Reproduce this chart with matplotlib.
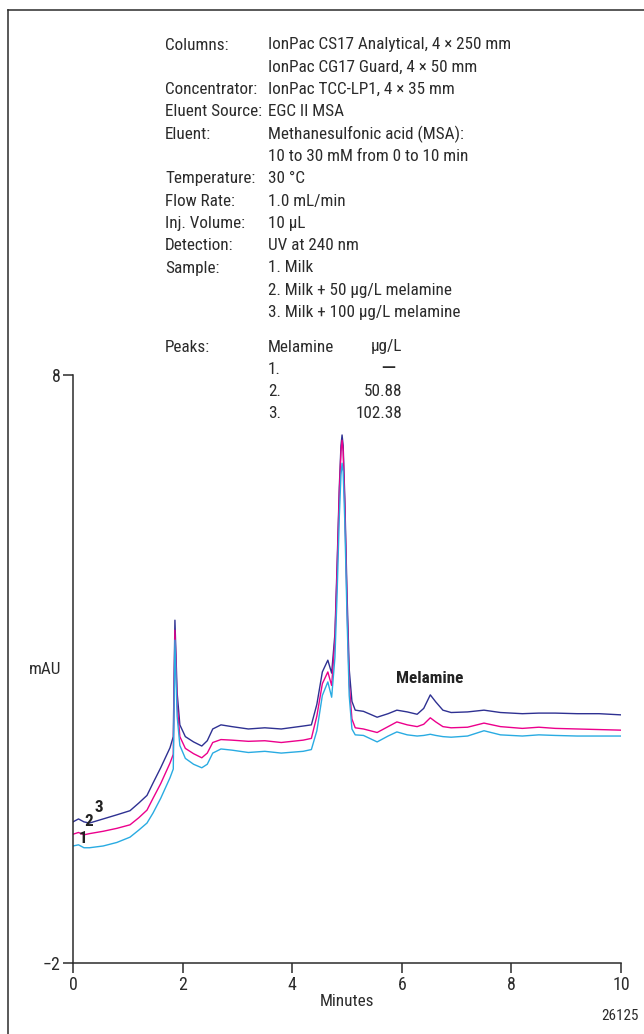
import matplotlib
matplotlib.use('Agg')
import matplotlib.pyplot as plt
from matplotlib import font_manager
from matplotlib.font_manager import FontProperties
from matplotlib.textpath import TextPath
from matplotlib.lines import Line2D

# --- data (minutes, mAU) ---
minutes = [0, 0.1, 0.2, 0.3, 0.55, 0.8, 1.04, 1.2, 1.35, 1.46,
           1.6, 1.77, 1.83, 1.86, 1.90, 1.95, 2.05, 2.2, 2.35, 2.45,
           2.55, 2.7, 2.9, 3.2, 3.5, 3.8, 4.2, 4.35, 4.45, 4.55,
           4.65, 4.72, 4.78, 4.82, 4.86, 4.89, 4.91, 4.93, 4.96, 5.00,
           5.04, 5.09, 5.15, 5.3, 5.55, 5.75, 5.91, 6.1, 6.28, 6.4,
           6.52, 6.62, 6.75, 6.9, 7.2, 7.5, 7.8, 8.2, 8.5, 8.8,
           9.2, 9.6, 10]
trace3 = [0.40, 0.45, 0.40, 0.38, 0.45, 0.52, 0.59, 0.72, 0.85, 1.06,
          1.32, 1.66, 1.85, 3.83, 2.60, 2.05, 1.85, 1.76, 1.69, 1.78,
          1.98, 2.05, 2.02, 1.98, 2.00, 1.98, 2.03, 2.05, 2.40, 2.95,
          3.15, 2.93, 3.60, 4.80, 6.10, 6.80, 6.98, 6.80, 5.90, 4.30,
          3.00, 2.45, 2.30, 2.28, 2.18, 2.24, 2.30, 2.27, 2.23, 2.33,
          2.56, 2.44, 2.30, 2.26, 2.27, 2.30, 2.26, 2.24, 2.25, 2.25,
          2.24, 2.24, 2.22]
trace2 = [0.19, 0.22, 0.18, 0.20, 0.24, 0.29, 0.35, 0.47, 0.60, 0.80,
          1.05, 1.40, 1.55, 3.66, 2.40, 1.85, 1.65, 1.56, 1.49, 1.57,
          1.75, 1.80, 1.79, 1.77, 1.78, 1.75, 1.79, 1.82, 2.20, 2.75,
          2.95, 2.72, 3.50, 4.70, 6.00, 6.70, 6.89, 6.70, 5.75, 4.10,
          2.75, 2.15, 2.00, 1.98, 1.92, 2.02, 2.10, 2.05, 2.02, 2.06,
          2.17, 2.10, 2.02, 2.00, 2.01, 2.08, 2.02, 1.99, 2.01, 1.99,
          1.98, 1.97, 1.96]
trace1 = [-0.01, 0.01, -0.04, -0.04, -0.01, 0.05, 0.14, 0.26, 0.38, 0.55,
          0.80, 1.15, 1.30, 3.49, 2.20, 1.70, 1.48, 1.38, 1.32, 1.38,
          1.57, 1.64, 1.62, 1.58, 1.60, 1.57, 1.60, 1.63, 1.95, 2.55,
          2.78, 2.52, 3.20, 4.30, 5.60, 6.30, 6.50, 6.35, 5.50, 3.90,
          2.55, 1.98, 1.88, 1.87, 1.76, 1.86, 1.93, 1.88, 1.86, 1.87,
          1.89, 1.87, 1.85, 1.84, 1.86, 1.95, 1.88, 1.86, 1.88, 1.87,
          1.86, 1.86, 1.86]

x_ticks = [0, 2, 4, 6, 8, 10]
y_ticks = [-2, 8]

cond_labels = ['Columns:', '', 'Concentrator:', 'Eluent Source:', 'Eluent:', '',
               'Temperature:', 'Flow Rate:', 'Inj. Volume:', 'Detection:',
               'Sample:', '', '']
cond_values = ['IonPac CS17 Analytical, 4 \u00d7 250 mm',
               'IonPac CG17 Guard, 4 \u00d7 50 mm',
               'IonPac TCC-LP1, 4 \u00d7 35 mm',
               'EGC II MSA',
               'Methanesulfonic acid (MSA):',
               '10 to 30 mM from 0 to 10 min',
               '30 \u00b0C', '1.0 mL/min', '10 \u00b5L', 'UV at 240 nm',
               '1. Milk', '2. Milk + 50 \u00b5g/L melamine',
               '3. Milk + 100 \u00b5g/L melamine']
peak_ids = ['1.', '2.', '3.']
peak_amounts = ['\u2014', '50.88', '102.38']

# the original is set in a condensed grotesque: take the narrowest plain sans face
# (any stretch) from the known families, then size it so 'Eluent Source:' spans ~95 px
sans_names = {'Liberation Sans', 'Liberation Sans Narrow', 'Noto Sans', 'Roboto',
              'Roboto Condensed', 'Open Sans', 'Open Sans Condensed', 'Lato', 'Inter',
              'DejaVu Sans'}
best = None
for f in font_manager.fontManager.ttflist:
    if f.name not in sans_names or f.style != 'normal':
        continue
    if f.weight not in (400, 'normal', 'regular'):
        continue
    try:
        w = TextPath((0, 0), 'Eluent Source:', size=12.5,
                     prop=FontProperties(fname=f.fname)).get_extents().width * 100 / 72
    except Exception:
        continue
    if best is None or w < best[0]:
        best = (w, f.name, f.stretch)

if best is None:
    FONT, FS = 'Liberation Sans', 11.0
else:
    FONT = best[1]
    plt.rcParams['font.stretch'] = best[2]
    FS = min(13.0, 12.5 * 95 / best[0])
plt.rcParams['font.family'] = [FONT, 'DejaVu Sans']
INK = '#2b2b2b'

W, H = 644, 1034
fig = plt.figure(figsize=(W / 100, H / 100), dpi=100)


def fx(px):
    return px / W


def fy(py):
    return 1 - py / H


ax = fig.add_axes([fx(73), fy(963), fx(621) - fx(73), fy(375) - fy(963)])
ax.plot(minutes, trace3, color='#2e3192', lw=1.0)
ax.plot(minutes, trace2, color='#ec008c', lw=1.0)
ax.plot(minutes, trace1, color='#29abe2', lw=1.0)

ax.set_xlim(0, 10)
ax.set_ylim(-2, 8)
ax.set_xticks(x_ticks)
ax.set_yticks(y_ticks)
ax.set_yticklabels(['\u22122', '8'])
ax.tick_params(direction='out', length=7, width=1.1, colors=INK, labelsize=FS + 0.5, pad=2)
for s in ('top', 'right'):
    ax.spines[s].set_visible(False)
for s in ('left', 'bottom'):
    ax.spines[s].set_linewidth(1.1)
    ax.spines[s].set_color(INK)

ax.text(6.5, 2.83, 'Melamine', fontsize=FS, fontweight='bold', ha='center', va='center', color='#222')
ax.text(0.47, 0.65, '3', fontsize=FS, fontweight='bold', ha='center', va='center', color='#222')
ax.text(0.29, 0.40, '2', fontsize=FS, fontweight='bold', ha='center', va='center', color='#222')
ax.text(0.18, 0.11, '1', fontsize=FS, fontweight='bold', ha='center', va='center', color='#222')

# axis titles and figure number
fig.text(fx(45), fy(670), 'mAU', fontsize=FS, ha='center', va='center', color=INK)
fig.text(fx(347), fy(1001), 'Minutes', fontsize=FS, ha='center', va='center', color=INK)
fig.text(fx(620), fy(1016), '26125', fontsize=FS - 1.5, ha='center', va='center', color=INK)

# conditions block
row = 22.3
for i, (lab, val) in enumerate(zip(cond_labels, cond_values)):
    y = fy(45 + i * row)
    if lab:
        fig.text(fx(165), y, lab, fontsize=FS, ha='left', va='center', color=INK)
    fig.text(fx(268), y, val, fontsize=FS, ha='left', va='center', color=INK)

fig.text(fx(165), fy(347), 'Peaks:', fontsize=FS, ha='left', va='center', color=INK)
fig.text(fx(268), fy(347), 'Melamine', fontsize=FS, ha='left', va='center', color=INK)
fig.text(fx(402), fy(347), '\u00b5g/L', fontsize=FS, ha='right', va='center', color=INK)
for i, (pid, amt) in enumerate(zip(peak_ids, peak_amounts)):
    y = fy(369 + i * row)
    fig.text(fx(268), y, pid, fontsize=FS, ha='left', va='center', color=INK)
    if amt == '\u2014':
        fig.text(fx(388), y, amt, fontsize=FS + 4, ha='center', va='center', color=INK)
    else:
        fig.text(fx(402), y, amt, fontsize=FS, ha='right', va='center', color=INK)

# page frame: left and top rules
fig.add_artist(Line2D([fx(8), fx(8)], [fy(10), 0], color=INK, lw=1.1))
fig.add_artist(Line2D([fx(8), 1], [fy(10), fy(10)], color=INK, lw=1.1))

fig.savefig('out.png', dpi=100)
